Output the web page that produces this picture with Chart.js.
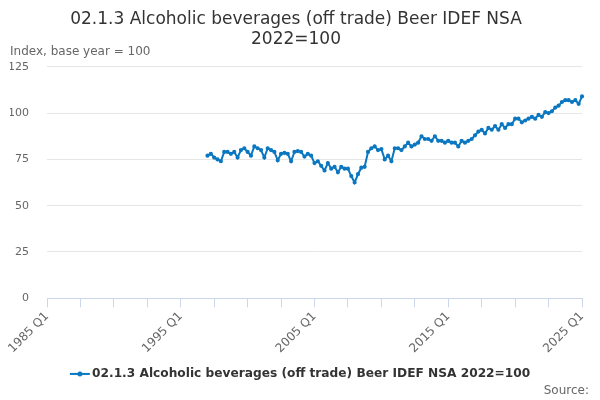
<!DOCTYPE html>
<html>
<head>
<meta charset="utf-8">
<script src="https://cdn.jsdelivr.net/npm/chart.js@4.4.1/dist/chart.umd.min.js"></script>
<style>
  html, body { margin: 0; padding: 0; background: #fff; }
  #wrap { width: 600px; height: 400px; position: relative; }
</style>
</head>
<body>
<div id="wrap"><canvas id="c"></canvas></div>
<script>
  // quarters 1985 Q1 .. 2025 Q1
  var FIRST_YEAR = 1985, LAST_YEAR = 2025;
  var quarters = [];
  for (var y = FIRST_YEAR; y <= LAST_YEAR; y++) {
    for (var q = 1; q <= 4; q++) {
      if (y === LAST_YEAR && q > 1) break;
      quarters.push(y + " Q" + q);
    }
  }

  // series starts 1997 Q1
  var seriesStart = "1997 Q1";
  var beerIndex = [
    77, 78, 76, 75,      // 1997
    74, 79, 79, 78,      // 1998
    79, 76, 80, 81,      // 1999
    79, 77, 82, 81,      // 2000
    80, 76, 81, 80,      // 2001
    79, 74.5, 78, 78.5,  // 2002
    78, 74, 79, 79.5,    // 2003
    79, 76.5, 78, 77,    // 2004
    73, 74, 71.5, 69,    // 2005
    73, 70, 71, 68,      // 2006
    71, 70, 70, 66,      // 2007
    62.5, 67, 70.5, 71,  // 2008
    79, 81, 82, 80,      // 2009
    80.5, 75, 77, 74,    // 2010
    81, 81, 80, 82,      // 2011
    84, 82, 83, 84,      // 2012
    87.5, 86, 86, 85,    // 2013
    87.5, 85, 85, 84,    // 2014
    85, 84, 84, 82,      // 2015
    85, 84, 85, 86,      // 2016
    88, 90, 91, 89,      // 2017
    92, 91, 93, 91,      // 2018
    94, 92, 94, 94,      // 2019
    97, 97, 95, 96,      // 2020
    97, 98, 97, 99,      // 2021
    98, 100.5, 100, 101, // 2022
    103, 104, 106, 107,  // 2023
    107, 106, 107, 105,  // 2024
    109                  // 2025
  ];
  var yTicks = [0, 25, 50, 75, 100, 125];

  var startIdx = quarters.indexOf(seriesStart);
  var data = quarters.map(function (lab, i) {
    var k = i - startIdx;
    return (k >= 0 && k < beerIndex.length) ? beerIndex[k] : null;
  });

  var BLUE = "#0b77c0";
  var FONT = "'DejaVu Sans', 'Liberation Sans', sans-serif";

  // legend marker: short line with a dot
  var mk = document.createElement("canvas");
  mk.width = 22; mk.height = 10;
  (function () {
    var g = mk.getContext("2d");
    g.strokeStyle = BLUE; g.lineWidth = 2;
    g.beginPath(); g.moveTo(1, 5); g.lineTo(21, 5); g.stroke();
    g.fillStyle = BLUE; g.beginPath(); g.arc(11, 5, 2.5, 0, Math.PI * 2); g.fill();
  })();

  // axis caption top-left and source note bottom-right
  var extraText = {
    id: "extraText",
    afterLayout: function (chart) {
      // centre the legend on the whole canvas, not the padded box
      if (chart.legend) { chart.legend.left += 6; chart.legend.right += 6; }
    },
    afterDraw: function (chart) {
      var ctx = chart.ctx;
      ctx.save();
      ctx.font = "12px " + FONT;
      ctx.fillStyle = "#666";
      ctx.textBaseline = "middle";
      ctx.textAlign = "left";
      ctx.fillText("Index, base year = 100", 10, 52);
      ctx.textAlign = "right";
      ctx.fillText("Source:", 589, 391);
      ctx.restore();
    }
  };

  new Chart(document.getElementById("c"), {
    type: "line",
    data: {
      labels: quarters,
      datasets: [{
        label: "02.1.3 Alcoholic beverages (off trade) Beer IDEF NSA 2022=100",
        data: data,
        borderColor: BLUE,
        backgroundColor: BLUE,
        borderWidth: 2,
        pointRadius: 1.1,
        pointHoverRadius: 3,
        pointStyle: "circle",
        tension: 0,
        spanGaps: false
      }]
    },
    options: {
      responsive: true,
      maintainAspectRatio: false,
      animation: false,
      layout: { padding: { left: 10, right: 18, top: 9, bottom: 10 } },
      plugins: {
        title: {
          display: true,
          text: ["02.1.3 Alcoholic beverages (off trade) Beer IDEF NSA", "2022=100"],
          color: "#333",
          font: { family: FONT, size: 17, weight: "normal", lineHeight: 1.2 },
          padding: { top: 0, bottom: 17 }
        },
        legend: {
          position: "bottom",
          labels: {
            color: "#333",
            font: { family: FONT, size: 12.2, weight: "bold" },
            usePointStyle: true,
            pointStyle: mk,
            padding: 10
          }
        },
        tooltip: { enabled: false }
      },
      scales: {
        x: {
          type: "category",
          offset: false,
          afterBuildTicks: function (s) {
            s.ticks = s.ticks.filter(function (t) { return t.value % 10 === 0; });
          },
          ticks: {
            autoSkip: false,
            maxRotation: 45,
            minRotation: 45,
            color: "#666",
            font: { family: FONT, size: 12 },
            padding: 2,
            callback: function (v) { return v % 40 === 0 ? quarters[v] : ""; }
          },
          grid: {
            drawOnChartArea: false,
            drawTicks: true,
            tickLength: 9,
            color: "#ccd6eb"
          },
          border: { display: true, color: "#ccd6eb", width: 1 }
        },
        y: {
          min: 0,
          max: 125,
          afterBuildTicks: function (s) {
            s.ticks = yTicks.map(function (v) { return { value: v }; });
          },
          afterFit: function (s) { s.width = 37; },
          ticks: {
            color: "#666",
            font: { family: FONT, size: 11 },
            padding: 18
          },
          grid: { color: "#e6e6e6", drawTicks: false },
          border: { display: false }
        }
      }
    },
    plugins: [extraText]
  });
</script>
</body>
</html>
